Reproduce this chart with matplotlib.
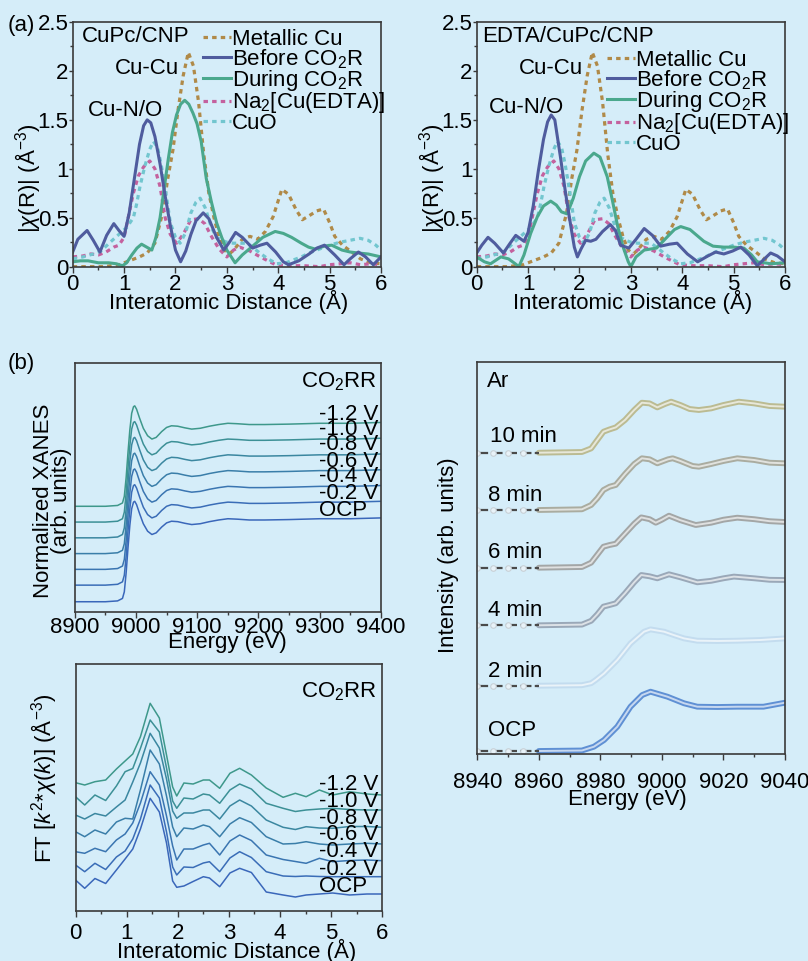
import numpy as np
import matplotlib
matplotlib.use('Agg')
import matplotlib.pyplot as plt
from matplotlib.ticker import MultipleLocator, FuncFormatter
from matplotlib.colors import to_rgb

plt.rcParams['font.family'] = ['Liberation Sans', 'DejaVu Sans']
plt.rcParams['mathtext.fontset'] = 'custom'
plt.rcParams['mathtext.rm'] = 'Liberation Sans'
plt.rcParams['mathtext.it'] = 'Liberation Sans:italic'
plt.rcParams['mathtext.bf'] = 'Liberation Sans:bold'
plt.rcParams['font.size'] = 16

BG = '#d5edf9'

# ---------------- (a) FT-EXAFS data ----------------
metal_r = [0, 0.3, 0.6, 0.9, 1.1, 1.3, 1.45, 1.6, 1.75, 1.85, 1.95, 2.05, 2.15, 2.25, 2.35, 2.45,
           2.55, 2.65, 2.75, 2.85, 2.95, 3.05, 3.15, 3.3, 3.45, 3.6, 3.75, 3.9, 4.07, 4.2, 4.35,
           4.47, 4.6, 4.75, 4.88, 5.0, 5.1, 5.25, 5.43, 5.6, 5.8, 6.0]
metal_v = [0.0, 0.0, 0.0, 0.02, 0.06, 0.1, 0.14, 0.24, 0.55, 0.9, 1.19, 1.6, 1.95, 2.19, 2.05, 1.68,
           1.15, 0.75, 0.5, 0.3, 0.17, 0.13, 0.18, 0.28, 0.31, 0.28, 0.36, 0.51, 0.79, 0.74, 0.58,
           0.48, 0.52, 0.57, 0.59, 0.45, 0.31, 0.22, 0.15, 0.08, 0.04, 0.03]

na_r = [0, 0.2, 0.35, 0.5, 0.65, 0.8, 0.9, 1.0, 1.08, 1.18, 1.28, 1.38, 1.5, 1.6, 1.7, 1.8, 1.9,
        2.02, 2.15, 2.3, 2.45, 2.57, 2.7, 2.85, 3.0, 3.13, 3.25, 3.45, 3.65, 3.8, 3.95, 4.2, 4.5,
        4.8, 5.0, 5.2, 5.4, 5.6, 5.8, 6.0]
na_v = [0.1, 0.11, 0.13, 0.12, 0.15, 0.2, 0.22, 0.3, 0.5, 0.75, 0.93, 1.02, 1.08, 1.0, 0.82, 0.5,
        0.33, 0.24, 0.33, 0.48, 0.49, 0.44, 0.31, 0.18, 0.1, 0.17, 0.2, 0.16, 0.1, 0.06, 0.02, 0.01,
        0.01, 0.0, 0.02, 0.03, 0.04, 0.02, 0.03, 0.02]

cuo_r = [0, 0.2, 0.4, 0.55, 0.73, 0.92, 1.05, 1.18, 1.24, 1.31, 1.4, 1.5, 1.57, 1.65, 1.72, 1.8,
         1.9, 2.0, 2.09, 2.2, 2.3, 2.4, 2.48, 2.58, 2.7, 2.8, 2.9, 3.0, 3.13, 3.25, 3.39, 3.5, 3.64,
         3.8, 3.97, 4.15, 4.3, 4.45, 4.6, 4.8, 5.0, 5.2, 5.4, 5.59, 5.75, 5.9, 6.0]
cuo_v = [0.08, 0.1, 0.13, 0.16, 0.25, 0.34, 0.4, 0.5, 0.63, 0.82, 1.02, 1.2, 1.28, 1.22, 1.05, 0.8,
         0.45, 0.3, 0.24, 0.35, 0.55, 0.66, 0.7, 0.6, 0.4, 0.3, 0.27, 0.25, 0.24, 0.24, 0.24, 0.2,
         0.14, 0.08, 0.03, 0.04, 0.07, 0.1, 0.14, 0.18, 0.22, 0.25, 0.27, 0.29, 0.27, 0.22, 0.17]

# CuPc/CNP
b1_r = [0, 0.1, 0.28, 0.4, 0.53, 0.66, 0.8, 0.9, 1.0, 1.1, 1.2, 1.3, 1.38, 1.45, 1.52, 1.6, 1.7,
        1.8, 1.9, 2.0, 2.1, 2.2, 2.3, 2.4, 2.54, 2.65, 2.8, 2.94, 3.05, 3.17, 3.3, 3.5, 3.65, 3.78,
        3.95, 4.1, 4.2, 4.4, 4.6, 4.75, 4.9, 5.1, 5.28, 5.4, 5.56, 5.7, 5.85, 6.0]
b1_v = [0.15, 0.28, 0.37, 0.27, 0.15, 0.32, 0.44, 0.37, 0.31, 0.55, 0.9, 1.25, 1.44, 1.50, 1.47,
        1.33, 1.05, 0.72, 0.42, 0.17, 0.05, 0.16, 0.33, 0.47, 0.55, 0.49, 0.3, 0.17, 0.25, 0.35,
        0.3, 0.19, 0.22, 0.24, 0.15, 0.05, 0.02, 0.06, 0.13, 0.19, 0.22, 0.12, 0.02, 0.08, 0.15,
        0.1, 0.02, 0.1]
d1_r = [0, 0.15, 0.3, 0.5, 0.7, 0.85, 0.97, 1.05, 1.15, 1.25, 1.34, 1.44, 1.54, 1.62, 1.7, 1.78,
        1.86, 1.94, 2.02, 2.1, 2.18, 2.26, 2.34, 2.42, 2.5, 2.6, 2.7, 2.8, 2.9, 3.0, 3.16, 3.3,
        3.48, 3.7, 3.94, 4.1, 4.26, 4.45, 4.59, 4.72, 4.9, 5.04, 5.24, 5.4, 5.56, 5.75, 6.0]
d1_v = [0.05, 0.06, 0.06, 0.04, 0.04, 0.03, 0.01, 0.04, 0.12, 0.19, 0.23, 0.2, 0.17, 0.3, 0.5,
        0.8, 1.1, 1.37, 1.55, 1.66, 1.70, 1.66, 1.57, 1.46, 1.28, 0.9, 0.66, 0.45, 0.3, 0.17, 0.04,
        0.12, 0.2, 0.3, 0.36, 0.34, 0.3, 0.24, 0.2, 0.18, 0.21, 0.22, 0.17, 0.15, 0.14, 0.13, 0.1]

# EDTA/CuPc/CNP
b2_r = [0, 0.1, 0.22, 0.35, 0.52, 0.65, 0.76, 0.92, 1.0, 1.1, 1.2, 1.3, 1.38, 1.45, 1.52, 1.63,
        1.73, 1.83, 1.9, 1.96, 2.03, 2.12, 2.22, 2.32, 2.45, 2.6, 2.7, 2.8, 2.96, 3.1, 3.26, 3.42,
        3.58, 3.75, 3.9, 4.1, 4.3, 4.5, 4.65, 4.81, 4.98, 5.14, 5.3, 5.46, 5.6, 5.72, 5.85, 6.0]
b2_v = [0.14, 0.22, 0.30, 0.24, 0.14, 0.24, 0.32, 0.26, 0.35, 0.62, 0.98, 1.3, 1.48, 1.55, 1.5,
        1.12, 0.75, 0.42, 0.2, 0.1, 0.18, 0.27, 0.26, 0.28, 0.36, 0.43, 0.37, 0.22, 0.19, 0.28,
        0.39, 0.32, 0.21, 0.23, 0.24, 0.13, 0.05, 0.11, 0.15, 0.13, 0.16, 0.2, 0.12, 0.01, 0.08,
        0.14, 0.11, 0.05]
d2_r = [0, 0.15, 0.27, 0.47, 0.62, 0.75, 0.82, 0.92, 1.05, 1.18, 1.3, 1.44, 1.55, 1.65, 1.76,
        1.88, 2.0, 2.12, 2.28, 2.4, 2.54, 2.64, 2.74, 2.85, 2.95, 3.0, 3.1, 3.26, 3.5, 3.7, 3.85,
        3.97, 4.15, 4.42, 4.6, 4.81, 5.0, 5.2, 5.35, 5.46, 5.6, 5.72, 6.0]
d2_v = [0.1, 0.05, 0.03, 0.1, 0.08, 0.03, 0.0, 0.12, 0.34, 0.51, 0.62, 0.67, 0.63, 0.56, 0.54,
        0.7, 0.92, 1.08, 1.16, 1.12, 0.92, 0.68, 0.42, 0.2, 0.05, 0.0, 0.1, 0.17, 0.19, 0.3, 0.38,
        0.41, 0.38, 0.26, 0.21, 0.2, 0.2, 0.19, 0.12, 0.05, 0.04, 0.03, 0.04]

legend_labels = ['Metallic Cu', 'Before CO$_2$R', 'During CO$_2$R', 'Na$_2$[Cu(EDTA)]', 'CuO']

# ---------------- (b) in-situ XANES vs potential ----------------
potentials = ['OCP', '-0.2 V', '-0.4 V', '-0.6 V', '-0.8 V', '-1.0 V', '-1.2 V']
xanes_e = [8900, 8950, 8970, 8978, 8981, 8984, 8987, 8990, 8993, 8996, 8998, 9001, 9006, 9012,
           9019, 9026, 9033, 9042, 9050, 9058, 9068, 9080, 9091, 9105, 9120, 9135, 9150, 9165,
           9185, 9210, 9250, 9300, 9350, 9400]
xanes_mu = [0, 0.0, 0.01, 0.04, 0.12, 0.35, 0.65, 0.92, 1.12, 1.2, 1.21, 1.17, 1.06, 0.94, 0.85,
            0.81, 0.83, 0.9, 0.95, 0.97, 0.965, 0.945, 0.93, 0.94, 0.965, 0.985, 1.0, 0.995,
            0.985, 0.985, 0.99, 1.0, 1.0, 1.01]
xanes_offsets = [0, 0.2, 0.39, 0.58, 0.77, 0.96, 1.15]

# ---------------- (b) FT vs potential ----------------
ft_r = [0, 0.18, 0.38, 0.59, 0.8, 0.97, 1.12, 1.27, 1.46, 1.64, 1.78, 1.9, 1.98, 2.12, 2.3, 2.5,
        2.62, 2.82, 3.02, 3.21, 3.44, 3.73, 4.06, 4.3, 4.51, 4.77, 5.03, 5.36, 5.7, 6.0]
ft_ocp = [31, 22.7, 32.5, 27.5, 41, 52, 62, 82, 112.7, 99, 68, 30, 23.7, 25, 29.5, 34.3, 33, 24.3,
          38, 42.7, 38.5, 19, 16, 14, 16, 17, 18, 16, 17, 17]
ft_m02 = [46, 39.3, 47.7, 41.5, 54, 60, 72, 92, 126, 113, 79, 44, 36, 44, 43.5, 48, 49.3, 39.3,
          53, 59.3, 53.5, 39.3, 35, 34.5, 35, 34.5, 34.3, 34.3, 34.3, 34.3]
ft_m04 = [59.3, 57.7, 62.7, 59.3, 71, 77, 88, 108, 139.3, 126, 95, 65, 51, 62, 62, 66, 67.7, 56,
          70, 76, 70.5, 56, 51.5, 49.5, 47.7, 52.7, 49.3, 50.5, 51, 50.3]
ft_m06 = [79.3, 74.3, 81, 77, 89, 92.7, 92, 121, 161, 147, 115, 84, 74.3, 83, 82, 86, 84.3, 74.3,
          87, 93.3, 88.5, 74.3, 67, 67.5, 69.3, 67, 66, 67, 67.7, 67]
ft_m08 = [96, 92, 97.5, 95, 104, 111, 129, 148, 177.7, 163, 132, 100, 92.7, 98, 98, 101, 101, 92,
          105, 111, 105, 91, 83.7, 81.5, 84.3, 83, 82.7, 84.5, 84.5, 83.7]
ft_m10 = [114.3, 106, 116, 110.5, 125, 139.3, 142.5, 162.7, 191, 179, 143, 110, 102.7, 113, 112,
          117, 116, 107.7, 121, 127, 122, 107.7, 102.7, 99.5, 101, 102, 102.7, 101.5, 101, 101]
ft_m12 = [128.3, 126, 129.3, 131, 142, 150, 157, 174.3, 207.7, 193, 156, 124, 115, 128, 127, 131,
          131, 122.7, 137.7, 142.7, 136, 123, 113.7, 117.7, 114.3, 121, 116, 119.3, 117, 116]
ft_curves = [ft_ocp, ft_m02, ft_m04, ft_m06, ft_m08, ft_m10, ft_m12]

# ---------------- (b) XANES vs time under Ar ----------------
times = ['OCP', '2 min', '4 min', '6 min', '8 min', '10 min']
pre_e = [8940, 8945, 8950, 8955, 8960]
ocp_e = [8960, 8974, 8977.9, 8981.2, 8985.5, 8989.8, 8993.6, 8996.3, 9001.8, 9007.2, 9011.5, 9018,
         9024.5, 9033, 9040]
ocp_v = [0, 0.5, 4.3, 11, 24.3, 44.3, 56, 59.3, 54.3, 47.7, 44.3, 44, 44.3, 44.3, 48.3]
t2_e = [8960, 8974, 8977, 8978.5, 8981.2, 8985.5, 8989.8, 8994.2, 8996.3, 9000.7, 9004, 9007.2,
        9011.5, 9018, 9024.5, 9032, 9040]
t2_v = [0, 0.5, 2.5, 5.7, 12.3, 25.7, 42.3, 54, 56.3, 54, 50.5, 47.3, 45, 44.7, 45, 45.7, 47.3]
t4_e = [8960, 8974, 8977, 8979, 8981, 8983, 8985, 8988, 8991, 8993.3, 8996, 8998.5, 9002.3, 9006,
        9011.5, 9016, 9020, 9023.4, 9030, 9035, 9040]
t4_v = [0, 0.7, 4.5, 11, 18.7, 20.3, 22, 32, 43, 50.3, 49, 47, 51, 48, 43, 44.5, 47, 48.7, 47,
        45.5, 45.3]
t6_e = [8960, 8974, 8977, 8979, 8981, 8983, 8985, 8988, 8991, 8993.3, 8996, 8998, 9000, 9002.3,
        9006, 9011, 9016, 9020, 9024.5, 9030, 9035, 9040]
t6_v = [0, 0.7, 5, 13, 21, 22.7, 24, 34, 44, 50.3, 48.5, 45, 48, 52, 47.5, 42.7, 45, 48, 50, 48.5,
        46.5, 45.7]
t8_e = [8960, 8974, 8977, 8979, 8981, 8983, 8985, 8988, 8991, 8993.5, 8996, 8998.5, 9002, 9003.5,
        9006, 9010, 9012, 9016, 9020, 9024.5, 9030, 9035, 9040]
t8_v = [0, 0.7, 5, 11.7, 20, 23.3, 25, 36, 46, 51.7, 50.7, 46.7, 50.7, 51.7, 49, 44, 43.3, 46, 49,
        51.7, 50, 47.3, 46.7]
t10_e = [8960, 8974, 8977, 8979, 8981, 8983, 8985, 8988, 8991, 8993.5, 8996, 8998.5, 9001, 9003,
         9006, 9009, 9012, 9016, 9020, 9025, 9030, 9035, 9040]
t10_v = [0, 0.7, 4.3, 12.7, 21, 23.3, 25.3, 32.7, 42.7, 50, 49.3, 45.3, 48.7, 51, 47.7, 43.7,
         42.7, 44.3, 47.7, 51, 49.3, 46.7, 46]
time_e = [ocp_e, t2_e, t4_e, t6_e, t8_e, t10_e]
time_v = [ocp_v, t2_v, t4_v, t6_v, t8_v, t10_v]
time_offsets = [3, 68.3, 128.7, 186.3, 244, 301.3]

# ---------------- styles ----------------
C_METAL = '#b08a48'
C_BEFORE = '#4f5c9e'
C_DURING = '#4aa88d'
C_NA = '#c4619e'
C_CUO = '#72c6cf'
pot_colors = ['#3a67ba', '#3a6db7', '#3a75b1', '#3a7ea9', '#3b87a0', '#3c9096', '#3e988b']
time_colors = ['#5f90d4', '#c3dcef', '#9aa8b8', '#a3a6a6', '#aaaca0', '#bbbb92']
SP = '#3a3a3a'

fig = plt.figure(figsize=(8.08, 9.61), dpi=100, facecolor=BG)
W, H = 808.0, 961.0


def mk_ax(l, t, r, b):
    ax = fig.add_axes([l / W, 1 - b / H, (r - l) / W, (b - t) / H])
    ax.set_facecolor('none')
    for s in ax.spines.values():
        s.set_color(SP)
        s.set_linewidth(1.2)
    ax.tick_params(which='both', direction='out', color=SP, labelsize=16, width=1.0)
    ax.tick_params(which='major', length=4)
    ax.tick_params(which='minor', length=2.5)
    return ax


gfmt = FuncFormatter(lambda v, p: ('%g' % v))

# ---- (a) panels ----
panels = [
    (72.7, 381.0, b1_r, b1_v, d1_r, d1_v, 'CuPc/CNP', 0.18, 1.60, 0.30, 0.972),
    (476.7, 785.0, b2_r, b2_v, d2_r, d2_v, 'EDTA/CuPc/CNP', 0.10, 1.63, 0.24, 0.886),
]
for (l, r, br, bv, dr, dv, title, tx, ny, nx, legy) in panels:
    ax = mk_ax(l, 22, r, 266.7)
    dot = (0, (1.4, 1.3))
    h_m, = ax.plot(metal_r, metal_v, color=C_METAL, lw=2.3, ls=dot)
    h_n, = ax.plot(na_r, na_v, color=C_NA, lw=2.3, ls=dot)
    h_c, = ax.plot(cuo_r, cuo_v, color=C_CUO, lw=2.3, ls=dot)
    h_d, = ax.plot(dr, dv, color=C_DURING, lw=2.2, solid_joinstyle='round')
    h_b, = ax.plot(br, bv, color=C_BEFORE, lw=2.2, solid_joinstyle='round')
    ax.set_xlim(0, 6)
    ax.set_ylim(0, 2.5)
    ax.xaxis.set_major_locator(MultipleLocator(1))
    ax.xaxis.set_minor_locator(MultipleLocator(0.5))
    ax.yaxis.set_major_locator(MultipleLocator(0.5))
    ax.yaxis.set_minor_locator(MultipleLocator(0.25))
    ax.xaxis.set_major_formatter(gfmt)
    ax.yaxis.set_major_formatter(gfmt)
    ax.tick_params(axis='x', which='major', pad=1.5)
    ax.tick_params(axis='y', which='both', length=3, pad=0)
    ax.tick_params(axis='y', which='minor', length=2)
    ax.set_xlabel('Interatomic Distance (Å)', va='center')
    ax.xaxis.set_label_coords(0.507, -0.146)
    ax.set_ylabel(r'|$\chi$(R)| (Å$^{-3}$)', va='center')
    ax.yaxis.set_label_coords(-0.145, 0.3625)
    ax.text(tx, 2.35, title, fontsize=16, va='center', ha='left')
    ax.text(0.82, 2.03, 'Cu-Cu', fontsize=16, va='center', ha='left')
    ax.text(nx, ny, 'Cu-N/O', fontsize=16, va='center', ha='left')
    ax.legend([h_m, h_b, h_d, h_n, h_c], legend_labels, loc='upper left',
              bbox_to_anchor=(0.4226, legy), frameon=False, borderpad=0, borderaxespad=0,
              handlelength=1.25, handletextpad=0.05, labelspacing=-0.12, fontsize=16)

fig.text(8 / W, 1 - 25 / H, '(a)', fontsize=16, ha='left', va='center')
fig.text(8 / W, 1 - 363 / H, '(b)', fontsize=16, ha='left', va='center')

# ---- (b) XANES vs potential ----
ax = mk_ax(74.7, 362.7, 381.0, 611.7)
for i, lab in enumerate(potentials):
    ax.plot(xanes_e, np.array(xanes_mu) + xanes_offsets[i], color=pot_colors[i], lw=1.1)
ax.set_xlim(8900, 9400)
ax.set_ylim(-0.12, 2.88)
ax.set_yticks([])
ax.xaxis.set_major_locator(MultipleLocator(100))
ax.xaxis.set_minor_locator(MultipleLocator(50))
ax.tick_params(axis='x', which='major', pad=0)
ax.set_xlabel('Energy (eV)', va='center')
ax.xaxis.set_label_coords(0.5, -0.122)
ax.set_ylabel('Normalized XANES\n(arb. units)', va='center', linespacing=0.85)
ax.yaxis.set_label_coords(-0.0725, 0.445)
ax.text(9393, 2.65, 'CO$_2$RR', ha='right', va='center', fontsize=16)
xl_y = [1.105, 1.31, 1.51, 1.69, 1.89, 2.07, 2.25]
for i, lab in enumerate(potentials):
    ax.text(9299, xl_y[i], lab, ha='left', va='center', fontsize=16)

# ---- (b) FT vs potential ----
ax = mk_ax(75.5, 664, 382.3, 910.7)
for i, lab in enumerate(potentials):
    ax.plot(ft_r, ft_curves[i], color=pot_colors[i], lw=1.1, solid_joinstyle='round')
ax.set_xlim(0, 6)
ax.set_ylim(0.3, 247)
ax.set_yticks([])
ax.xaxis.set_major_locator(MultipleLocator(1))
ax.xaxis.set_minor_locator(MultipleLocator(0.5))
ax.xaxis.set_major_formatter(gfmt)
ax.tick_params(axis='x', which='major', pad=5)
ax.set_xlabel('Interatomic Distance (Å)', va='center')
ax.xaxis.set_label_coords(0.524, -0.162)
ax.set_ylabel(r'FT [$k^{2}$*$\chi$($k$)] (Å$^{-3}$)', va='center')
ax.yaxis.set_label_coords(-0.103, 0.538)
ax.text(5.89, 219.3, 'CO$_2$RR', ha='right', va='center', fontsize=16)
fl_y = [24.3, 41.7, 59.3, 76, 92.7, 109.3, 127]
for i, lab in enumerate(potentials):
    ax.text(4.76, fl_y[i], lab, ha='left', va='center', fontsize=16)

# ---- (b) XANES vs time ----
ax = mk_ax(477.3, 361.7, 785.0, 754.0)
for i, lab in enumerate(times):
    c = np.array(to_rgb(time_colors[i]))
    light = tuple(c * 0.35 + 0.65)
    off = time_offsets[i]
    ax.plot(time_e[i], np.array(time_v[i]) + off, color=time_colors[i], lw=4.2,
            solid_joinstyle='round', solid_capstyle='round')
    ax.plot(time_e[i], np.array(time_v[i]) + off, color=light, lw=1.4, solid_joinstyle='round')
    ax.plot(pre_e, np.zeros(len(pre_e)) + off, color='#4a4a4a', lw=1.6, ls=(0, (5, 1.5)),
            marker='o', ms=4, mfc='#e8f2f8', mec='#c8d0d6', mew=0.8, markevery=[0, 1, 2, 3])
ax.set_xlim(8940, 9040)
ax.set_ylim(0, 392.3)
ax.set_yticks([])
ax.xaxis.set_major_locator(MultipleLocator(20))
ax.xaxis.set_minor_locator(MultipleLocator(10))
ax.tick_params(axis='x', which='major', pad=9)
ax.set_xlabel('Energy (eV)', va='center')
ax.xaxis.set_label_coords(0.4865, -0.117)
ax.set_ylabel('Intensity (arb. units)', va='center')
ax.yaxis.set_label_coords(-0.092, 0.507)
ax.text(8943.2, 372.3, 'Ar', ha='left', va='center', fontsize=16)
tl_y = [24, 82.3, 143, 201, 258.3, 317.3]
tl_x = [8943.5, 8943.5, 8943.5, 8943.5, 8943.5, 8944.0]
for i, lab in enumerate(times):
    ax.text(tl_x[i], tl_y[i], lab, ha='left', va='center', fontsize=16)

fig.savefig('out.png', dpi=100, facecolor=BG)
